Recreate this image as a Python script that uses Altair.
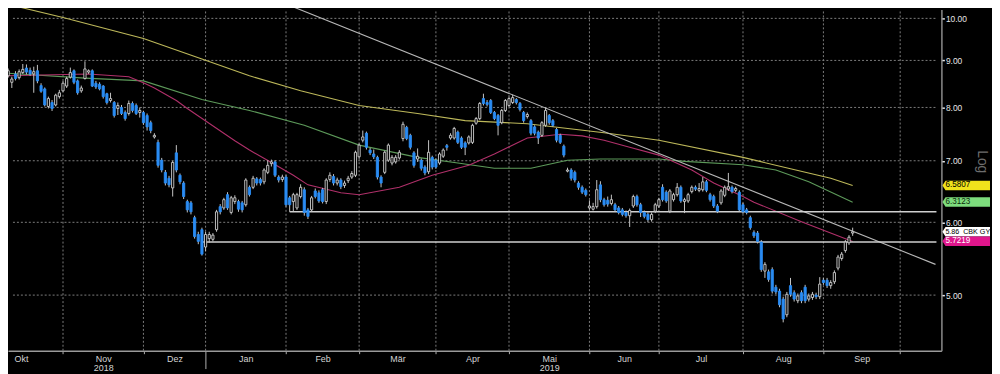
import altair as alt
import pandas as pd

# ---------------- data ----------------
first_day = -15  # trading-day index of first candle (0 = 1 Nov 2018)

opens = [
    8.66, 8.52, 8.70, 8.62, 8.73, 8.83, 8.78, 8.70, 8.77, 8.45,
    8.38, 8.02, 8.10, 8.05, 8.22, 8.34, 8.44, 8.63, 8.77, 8.55,
    8.34, 8.60, 8.74, 8.77, 8.50, 8.48, 8.44, 8.28, 8.14, 8.10,
    7.98, 8.00, 7.90, 7.88, 8.08, 8.04, 7.90, 7.90, 7.84, 7.70,
    7.43, 7.33, 7.01, 6.80, 6.70, 6.54, 7.14, 6.75, 6.62, 6.32,
    6.30, 6.07, 5.82, 5.89, 5.64, 5.76, 5.75, 5.89, 6.24, 6.22,
    6.43, 6.15, 6.32, 6.32, 6.30, 6.27, 6.55, 6.55, 6.69, 6.68,
    6.64, 6.80, 6.95, 6.98, 6.72, 6.68, 6.72, 6.38, 6.32, 6.22,
    6.40, 6.51, 6.19, 6.19, 6.49, 6.46, 6.51, 6.32, 6.68, 6.73,
    6.62, 6.67, 6.58, 6.66, 6.72, 6.75, 7.07, 7.37, 7.50, 7.19,
    7.12, 7.06, 6.72, 6.80, 7.01, 6.96, 6.98, 7.05, 7.40, 7.61,
    7.46, 7.14, 7.03, 7.01, 6.89, 6.81, 7.06, 7.01, 6.96, 7.08,
    7.27, 7.41, 7.41, 7.52, 7.41, 7.32, 7.32, 7.33, 7.69, 7.78,
    8.18, 8.10, 8.14, 7.90, 7.84, 7.70, 7.94, 8.04, 8.10, 8.16,
    8.08, 7.90, 7.82, 7.74, 7.62, 7.52, 7.46, 7.65, 7.84, 7.74,
    7.57, 7.46, 7.26, 6.82, 6.84, 6.80, 6.62, 6.55, 6.50, 6.22,
    6.20, 6.24, 6.59, 6.35, 6.34, 6.29, 6.27, 6.22, 6.19, 6.15,
    6.10, 6.25, 6.40, 6.27, 6.15, 6.12, 6.04, 6.17, 6.25, 6.55,
    6.47, 6.17, 6.35, 6.43, 6.55, 6.32, 6.33, 6.48, 6.55, 6.50,
    6.51, 6.64, 6.43, 6.40, 6.25, 6.30, 6.42, 6.52, 6.55, 6.50,
    6.47, 6.27, 6.19, 6.07, 5.85, 5.84, 5.71, 5.31, 5.30, 5.33,
    5.10, 5.05, 4.95, 4.76, 5.12, 5.03, 4.93, 5.03, 5.10, 4.95,
    4.97, 5.00, 4.98, 5.19, 5.19, 5.12, 5.17, 5.35, 5.48, 5.59,
    5.70, 5.84,
]
highs = [
    8.82, 8.64, 8.76, 8.80, 8.92, 8.91, 8.84, 8.86, 8.90, 8.50,
    8.41, 8.22, 8.15, 8.28, 8.36, 8.55, 8.64, 8.84, 8.80, 8.58,
    8.45, 8.98, 8.80, 8.80, 8.55, 8.52, 8.46, 8.30, 8.30, 8.13,
    8.10, 8.05, 7.94, 8.14, 8.12, 8.08, 8.00, 7.93, 7.88, 7.74,
    7.50, 7.38, 7.05, 6.84, 6.74, 7.00, 7.28, 6.78, 6.65, 6.35,
    6.33, 6.10, 5.86, 5.92, 5.86, 5.86, 5.84, 6.19, 6.28, 6.38,
    6.47, 6.41, 6.42, 6.35, 6.33, 6.70, 6.58, 6.74, 6.72, 6.71,
    6.87, 7.01, 7.02, 7.01, 6.75, 6.76, 6.75, 6.41, 6.46, 6.46,
    6.60, 6.55, 6.22, 6.41, 6.53, 6.50, 6.54, 6.70, 6.80, 6.77,
    6.71, 6.70, 6.66, 6.74, 6.82, 7.18, 7.31, 7.55, 7.53, 7.23,
    7.20, 7.09, 6.75, 7.18, 7.31, 7.10, 7.10, 7.19, 7.72, 7.64,
    7.49, 7.17, 7.22, 7.04, 6.92, 7.37, 7.09, 7.04, 7.15, 7.22,
    7.30, 7.50, 7.62, 7.55, 7.44, 7.35, 7.46, 7.68, 7.81, 8.11,
    8.28, 8.15, 8.17, 7.93, 7.87, 7.97, 8.17, 8.22, 8.26, 8.19,
    8.11, 7.93, 7.90, 7.77, 7.65, 7.55, 7.73, 8.00, 7.87, 7.77,
    7.60, 7.49, 7.29, 6.88, 6.87, 6.83, 6.65, 6.58, 6.53, 6.34,
    6.30, 6.67, 6.65, 6.38, 6.40, 6.43, 6.30, 6.25, 6.22, 6.18,
    6.21, 6.43, 6.43, 6.30, 6.18, 6.15, 6.15, 6.30, 6.38, 6.60,
    6.50, 6.52, 6.46, 6.62, 6.58, 6.38, 6.46, 6.58, 6.58, 6.62,
    6.72, 6.67, 6.46, 6.43, 6.28, 6.52, 6.58, 6.79, 6.58, 6.56,
    6.50, 6.30, 6.22, 6.10, 5.88, 5.87, 5.74, 5.43, 5.33, 5.36,
    5.13, 5.08, 4.98, 5.04, 5.22, 5.06, 5.02, 5.06, 5.13, 5.02,
    5.04, 5.03, 5.23, 5.22, 5.22, 5.19, 5.32, 5.53, 5.57, 5.74,
    5.81, 5.92,
]
lows = [
    8.62, 8.40, 8.56, 8.58, 8.70, 8.69, 8.66, 8.30, 8.50, 8.30,
    8.02, 7.98, 7.93, 8.02, 8.18, 8.32, 8.40, 8.60, 8.48, 8.26,
    8.30, 8.58, 8.70, 8.42, 8.38, 8.35, 8.18, 8.06, 8.10, 7.80,
    7.85, 7.85, 7.74, 7.84, 7.90, 7.85, 7.80, 7.66, 7.55, 7.50,
    7.40, 6.88, 6.80, 6.58, 6.55, 6.40, 6.80, 6.60, 6.36, 6.15,
    6.12, 5.76, 5.68, 5.52, 5.58, 5.70, 5.72, 5.86, 6.12, 6.19,
    6.19, 6.12, 6.28, 6.16, 6.15, 6.24, 6.40, 6.52, 6.58, 6.58,
    6.60, 6.77, 6.90, 6.72, 6.63, 6.64, 6.24, 6.16, 6.17, 6.19,
    6.37, 6.10, 6.05, 6.16, 6.37, 6.30, 6.29, 6.28, 6.64, 6.58,
    6.58, 6.52, 6.54, 6.62, 6.69, 6.72, 7.04, 7.33, 7.20, 7.10,
    7.03, 6.68, 6.55, 6.77, 6.98, 6.92, 6.95, 7.02, 7.35, 7.37,
    7.20, 6.88, 6.98, 6.83, 6.75, 6.77, 6.85, 6.86, 6.93, 7.05,
    7.18, 7.38, 7.38, 7.30, 7.21, 7.10, 7.29, 7.30, 7.66, 7.75,
    8.04, 8.02, 7.87, 7.75, 7.46, 7.67, 7.91, 8.01, 8.07, 8.06,
    7.92, 7.70, 7.78, 7.46, 7.46, 7.30, 7.43, 7.62, 7.66, 7.62,
    7.33, 7.30, 7.06, 6.80, 6.66, 6.63, 6.51, 6.44, 6.40, 6.19,
    6.18, 6.21, 6.31, 6.24, 6.24, 6.26, 6.16, 6.12, 6.09, 6.07,
    5.93, 6.22, 6.24, 6.08, 6.06, 6.00, 6.01, 6.14, 6.22, 6.32,
    6.30, 6.14, 6.32, 6.40, 6.30, 6.14, 6.30, 6.45, 6.49, 6.47,
    6.48, 6.47, 6.32, 6.22, 6.14, 6.27, 6.39, 6.49, 6.45, 6.47,
    6.16, 6.13, 6.12, 5.89, 5.77, 5.69, 5.30, 5.22, 5.17, 5.02,
    5.01, 4.85, 4.67, 4.73, 4.98, 4.92, 4.90, 4.90, 4.90, 4.92,
    4.94, 4.95, 4.95, 5.13, 5.09, 5.08, 5.14, 5.32, 5.45, 5.56,
    5.67, 5.80,
]
closes = [
    8.77, 8.59, 8.60, 8.75, 8.80, 8.74, 8.70, 8.75, 8.55, 8.33,
    8.05, 8.18, 7.98, 8.25, 8.30, 8.50, 8.60, 8.73, 8.52, 8.30,
    8.40, 8.81, 8.77, 8.44, 8.42, 8.38, 8.22, 8.10, 8.18, 7.84,
    8.04, 7.88, 7.78, 8.08, 7.94, 7.88, 7.94, 7.70, 7.62, 7.55,
    7.46, 6.92, 6.84, 6.62, 6.59, 6.97, 6.84, 6.64, 6.40, 6.19,
    6.16, 5.79, 5.72, 5.54, 5.82, 5.82, 5.81, 6.16, 6.16, 6.35,
    6.22, 6.38, 6.38, 6.20, 6.19, 6.67, 6.43, 6.70, 6.62, 6.62,
    6.84, 6.92, 6.98, 6.75, 6.67, 6.72, 6.27, 6.27, 6.43, 6.43,
    6.55, 6.15, 6.09, 6.38, 6.40, 6.33, 6.32, 6.67, 6.75, 6.62,
    6.67, 6.56, 6.62, 6.70, 6.78, 7.15, 7.28, 7.43, 7.24, 7.14,
    7.07, 6.72, 6.62, 7.15, 7.28, 7.06, 7.06, 7.15, 7.67, 7.40,
    7.24, 6.92, 7.08, 6.87, 6.79, 7.15, 6.89, 6.89, 7.12, 7.19,
    7.24, 7.46, 7.59, 7.33, 7.24, 7.24, 7.43, 7.65, 7.78, 8.08,
    8.08, 8.06, 7.90, 7.78, 7.65, 7.94, 8.14, 8.18, 8.20, 8.10,
    7.96, 7.74, 7.86, 7.50, 7.50, 7.41, 7.70, 7.94, 7.70, 7.65,
    7.37, 7.33, 7.10, 6.84, 6.70, 6.67, 6.55, 6.47, 6.43, 6.25,
    6.24, 6.51, 6.35, 6.27, 6.28, 6.35, 6.19, 6.15, 6.12, 6.10,
    6.18, 6.40, 6.27, 6.15, 6.09, 6.04, 6.12, 6.27, 6.35, 6.35,
    6.33, 6.49, 6.43, 6.55, 6.33, 6.35, 6.43, 6.55, 6.52, 6.53,
    6.64, 6.50, 6.35, 6.25, 6.17, 6.49, 6.55, 6.56, 6.48, 6.53,
    6.19, 6.16, 6.15, 5.92, 5.80, 5.72, 5.33, 5.40, 5.20, 5.05,
    5.04, 4.88, 4.71, 5.01, 5.01, 4.95, 4.99, 4.93, 4.93, 4.99,
    5.01, 4.98, 5.14, 5.16, 5.12, 5.16, 5.29, 5.50, 5.54, 5.71,
    5.78, 5.86,
]

# month axis (trading-day index)
month_names = ["Okt", "Nov", "Dez", "Jan", "Feb", "Mär", "Apr", "Mai", "Jun", "Jul", "Aug", "Sep"]
month_years = ["", "2018", "", "", "", "", "", "2019", "", "", "", ""]
month_mid = [-11.5, 11, 30.5, 50, 71, 91.5, 112, 133, 153.5, 174.5, 197, 218.5]
month_start = [0, 22, 39, 61, 81, 102, 122, 144, 163, 186, 208, 229]
year_start = 39
price_ticks = [5, 6, 7, 8, 9, 10]

# moving averages (sampled along the curves)
ma200_day = [-16, 0, 22, 38, 51, 65, 81, 97, 110, 127, 148, 163, 186, 199, 210, 216]
ma200_val = [10.38, 10.02, 9.51, 9.03, 8.66, 8.34, 8.04, 7.88, 7.74, 7.68, 7.51, 7.37, 7.06, 6.86, 6.70, 6.58]
ma100_day = [-16, 6, 22, 38, 51, 66, 81, 97, 108, 118, 128, 138, 147, 163, 170, 186, 195, 204, 216]
ma100_val = [8.72, 8.61, 8.55, 8.16, 7.94, 7.65, 7.28, 7.06, 6.96, 6.87, 6.87, 7.01, 7.03, 7.03, 6.99, 6.93, 6.84, 6.64, 6.31]
ma50_day = [-16, 7, 18, 22, 25, 31, 34, 47, 51, 57, 63, 67, 76, 81, 92, 101, 111, 118, 127, 136, 142,
            148, 155, 163, 172, 178, 186, 189, 202, 216]
ma50_val = [8.66, 8.70, 8.64, 8.51, 8.40, 8.14, 7.98, 7.36, 7.19, 6.97, 6.75, 6.59, 6.46, 6.43, 6.55, 6.75, 6.92,
            7.12, 7.41, 7.48, 7.45, 7.37, 7.24, 7.10, 6.84, 6.62, 6.40, 6.31, 6.01, 5.72]

trend_day = [59.33, 238.66]
trend_val = [10.43, 5.40]
level_val = [6.16, 5.71]
level_from = [62, 38]

tag_val = [6.5807, 6.3123, 5.86, 5.7219]
tag_text = ["6.5807", "6.3123", "5.86\u00a0 CBK GY", "5.7219"]
tag_fill = ["#f0e21c", "#7ddc7d", "#ffffff", "#e0168c"]
tag_ink = ["#000000", "#0b2a0b", "#000000", "#ffffff"]

# ---------------- layout ----------------
X_MIN, X_MAX = -13.69, 238.92
Y_MIN, Y_MAX = 4.35, 10.225
W, H = 941, 344
FONT = "Liberation Sans Narrow, Arial Narrow, Liberation Sans, Arial"
GRID = "#7c7c7c"
GRID_DASH = [2, 2]

xs = alt.Scale(domain=[X_MIN, X_MAX], nice=False, zero=False)
ys = alt.Scale(type="log", domain=[Y_MIN, Y_MAX], nice=False)

mid_js = "[" + ",".join(repr(v) for v in month_mid) + "]"
lab_js = "[" + ",".join("'" + n + ("|" + y if y else "") + "'" for n, y in zip(month_names, month_years)) + "]"
start_js = "[" + ",".join(repr(v) for v in month_start) + "]"
label_expr = f"indexof({mid_js}, datum.value) >= 0 ? split({lab_js}[indexof({mid_js}, datum.value)], '|') : ''"

x_axis = alt.Axis(
    values=month_mid + month_start, labelExpr=label_expr, grid=False, title=None,
    domainColor="#9a9a9a", domainWidth=1.5, tickColor="#b0b0b0", tickWidth=1,
    tickSize={"condition": {"test": f"datum.value == {year_start}", "value": 18}, "value": 3},
    tickOpacity={"condition": {"test": f"indexof({start_js}, datum.value) >= 0", "value": 1}, "value": 0},
    labelColor="#d4d4d4", labelFont=FONT, labelFontSize=9, labelLineHeight=9, labelPadding=1,
    labelFlush=False, labelOverlap=False, labelBound=False,
)
y_axis = alt.Axis(
    orient="right", values=price_ticks, format=".2f", grid=False,
    domainColor="#8c8c8c", domainWidth=1.5, tickColor="#e6e6e6", tickSize=3, tickWidth=1.5,
    labelColor="#e6e6e6", labelFont=FONT, labelFontSize=8.5, labelPadding=1, labelOverlap=False,
    title="Log", titleColor="#6e6e6e", titleFont="Liberation Sans", titleFontSize=14,
    titleFontWeight="normal", titleAngle=90, titleAlign="center", titleBaseline="middle",
    titleX=40, titleY=153,
)


def X(field):
    return alt.X(field, scale=xs, axis=x_axis)


def Y(field):
    return alt.Y(field, scale=ys, axis=y_axis)


candles = pd.DataFrame({
    "d": list(range(first_day, first_day + len(opens))),
    "o": opens, "h": highs, "l": lows, "c": closes,
})

# dotted grid: month boundaries (vertical) and price levels (horizontal)
grid_v = alt.Chart(pd.DataFrame({
    "d": month_start, "lo": [Y_MIN] * len(month_start), "hi": [Y_MAX] * len(month_start),
})).mark_rule(color=GRID, strokeDash=GRID_DASH, strokeWidth=1).encode(
    x=X("d:Q"), y=Y("lo:Q"), y2="hi:Q"
)
grid_h = alt.Chart(pd.DataFrame({
    "v": price_ticks, "a": [X_MIN] * len(price_ticks), "b": [X_MAX] * len(price_ticks),
})).mark_rule(color=GRID, strokeDash=GRID_DASH, strokeWidth=1).encode(
    x=X("a:Q"), x2="b:Q", y=Y("v:Q")
)


def ma_line(days, vals, color):
    return alt.Chart(pd.DataFrame({"d": days, "v": vals})).mark_line(
        color=color, strokeWidth=1.1
    ).encode(x=X("d:Q"), y=Y("v:Q"))


ma200 = ma_line(ma200_day, ma200_val, "#bdb85a")
ma100 = ma_line(ma100_day, ma100_val, "#5d9a5a")
ma50 = ma_line(ma50_day, ma50_val, "#b0306a")

trend = alt.Chart(pd.DataFrame({"d": trend_day, "v": trend_val})).mark_line(
    color="#b8b8b8", strokeWidth=1.1
).encode(x=X("d:Q"), y=Y("v:Q"))

levels = alt.Chart(pd.DataFrame({"f": level_from, "t": [X_MAX] * len(level_from), "v": level_val})).mark_rule(
    color="#cfcfcf", strokeWidth=1.5
).encode(x=X("f:Q"), x2="t:Q", y=Y("v:Q"))

wicks = alt.Chart(candles).mark_rule(color="#c4c4c4", strokeWidth=1).encode(
    x=X("d:Q"), y=Y("l:Q"), y2="h:Q",
)

up = "datum.c >= datum.o"
bodies = alt.Chart(candles).mark_bar(width=2.2, strokeWidth=0.9).encode(
    x=X("d:Q"), y=Y("o:Q"), y2="c:Q",
    fill=alt.condition(up, alt.value("#000000"), alt.value("#2a8cf4")),
    stroke=alt.condition(up, alt.value("#d0d0d0"), alt.value("#2a8cf4")),
)

tags = pd.DataFrame({"v": tag_val, "t": tag_text, "fill": tag_fill, "ink": tag_ink})
TAG_SHAPE = "M-1,0L-0.87,-0.2L1,-0.2L1,0.2L-0.87,0.2Z"
tag_boxes = alt.Chart(tags).mark_point(
    shape=TAG_SHAPE, size=48 * 48, filled=True, opacity=1, strokeWidth=0
).encode(
    x=alt.value(W + 25),
    y=Y("v:Q"),
    fill=alt.Fill("fill:N", scale=None),
)
tag_texts = alt.Chart(tags).mark_text(
    align="left", baseline="middle", font="Liberation Sans"
).encode(
    x=alt.value(W + 4),
    y=Y("v:Q"),
    text="t:N",
    color=alt.Color("ink:N", scale=None),
    size=alt.condition("length(datum.t) > 7", alt.value(7.2), alt.value(8.2)),
)

chart = alt.layer(
    grid_v, grid_h, ma200, ma100, ma50, trend, levels, wicks, bodies, tag_boxes, tag_texts
).properties(
    width=W, height=H, background="#000000",
    padding={"left": 0, "top": 0, "right": 51, "bottom": 22},
    autosize=alt.AutoSizeParams(type="none"),
).configure_view(stroke=None)

chart.save("out.html", embed_options={"renderer": "svg", "actions": False})
